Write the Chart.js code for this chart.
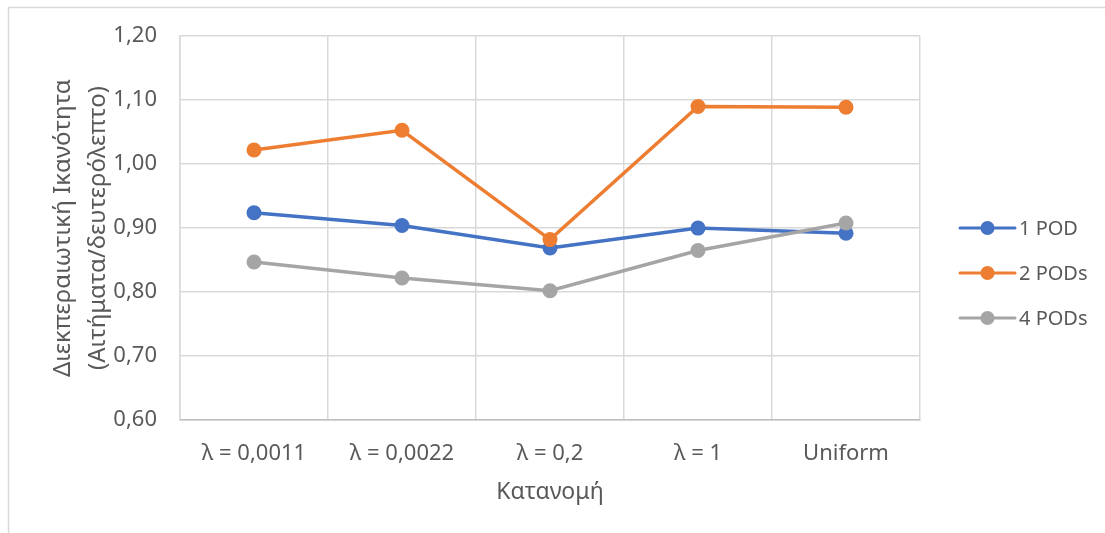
<!DOCTYPE html>
<html>
<head>
<meta charset="utf-8">
<style>
  html, body { margin: 0; padding: 0; background: #ffffff; }
  #wrap { position: relative; width: 1105px; height: 533px; }
</style>
<script src="https://cdn.jsdelivr.net/npm/chart.js@4.4.1/dist/chart.umd.min.js"></script>
</head>
<body>
<div id="wrap"><canvas id="chart" width="1105" height="533"></canvas></div>
<script>
// Categories (distribution) and throughput per configuration
const categories = ['λ = 0,0011', 'λ = 0,0022', 'λ = 0,2', 'λ = 1', 'Uniform'];
const seriesNames = ['1 POD', '2 PODs', '4 PODs'];
const onePod  = [0.924, 0.904, 0.869, 0.900, 0.892];
const twoPods = [1.022, 1.053, 0.882, 1.090, 1.089];
const fourPods = [0.847, 0.822, 0.802, 0.865, 0.908];
const yTickValues = [0.60, 0.70, 0.80, 0.90, 1.00, 1.10, 1.20];
const yTitle = ['Διεκπεραιωτική Ικανότητα', '(Αιτήματα/δευτερόλεπτο)'];
const xTitle = 'Κατανομή';

const FONT = "'Noto Sans', 'Open Sans', sans-serif";
const TEXT = '#595959';
const GRID = '#d9d9d9';
const colors = ['#4472C4', '#ED7D31', '#A5A5A5'];

// Frame of the chart area (top and left edges)
const framePlugin = {
  id: 'frame',
  beforeDraw(chart) {
    const ctx = chart.ctx;
    ctx.save();
    ctx.strokeStyle = GRID;
    ctx.lineWidth = 1.5;
    ctx.beginPath();
    ctx.moveTo(8.5, chart.height);
    ctx.lineTo(8.5, 7.5);
    ctx.lineTo(chart.width, 7.5);
    ctx.stroke();
    ctx.restore();
  }
};

// Legend on the right: line with a round marker, then the series name
const sideLegend = {
  id: 'sideLegend',
  afterDraw(chart) {
    const ctx = chart.ctx;
    const area = chart.chartArea;
    const x0 = area.right + 40;
    const x1 = area.right + 95;
    const yStart = 228;
    const step = 45;
    ctx.save();
    chart.data.datasets.forEach((ds, i) => {
      const y = yStart + i * step;
      ctx.strokeStyle = ds.borderColor;
      ctx.lineWidth = 3;
      ctx.lineCap = 'round';
      ctx.beginPath();
      ctx.moveTo(x0, y);
      ctx.lineTo(x1, y);
      ctx.stroke();
      ctx.fillStyle = ds.backgroundColor;
      ctx.beginPath();
      ctx.arc((x0 + x1) / 2, y, 7, 0, Math.PI * 2);
      ctx.fill();
      ctx.fillStyle = TEXT;
      ctx.font = '20px ' + FONT;
      ctx.textAlign = 'left';
      ctx.textBaseline = 'middle';
      ctx.fillText(ds.label, x1 + 4, y + 1);
    });
    ctx.restore();
  }
};

const seriesData = [onePod, twoPods, fourPods];
const datasets = seriesData.map((vals, i) => ({
  label: seriesNames[i],
  data: vals,
  borderColor: colors[i],
  backgroundColor: colors[i],
  borderWidth: 3.5,
  pointRadius: 7.5,
  pointBorderWidth: 0,
  pointBackgroundColor: colors[i],
  tension: 0,
  order: seriesData.length - i
}));

new Chart(document.getElementById('chart'), {
  type: 'line',
  data: { labels: categories, datasets },
  plugins: [framePlugin, sideLegend],
  options: {
    responsive: false,
    animation: false,
    layout: { padding: { top: 36, right: 185, left: 0, bottom: 0 } },
    plugins: {
      legend: { display: false },
      tooltip: { enabled: false }
    },
    scales: {
      x: {
        offset: true,
        grid: { offset: true, color: GRID, lineWidth: 1.5, drawTicks: false },
        border: { color: '#bfbfbf', width: 1.5 },
        ticks: { color: TEXT, font: { family: FONT, size: 22 }, padding: 21, maxRotation: 0 },
        title: {
          display: true, text: xTitle, color: TEXT,
          font: { family: FONT, size: 23 }, padding: { top: 0, bottom: 27 }
        },
        afterFit(scale) { scale.height = 113; }
      },
      y: {
        min: 0.6,
        max: 1.2,
        afterBuildTicks(scale) { scale.ticks = yTickValues.map(v => ({ value: v })); },
        grid: { color: GRID, lineWidth: 1.5, drawTicks: false },
        border: { color: GRID, width: 1.5 },
        ticks: {
          color: TEXT, font: { family: FONT, size: 22 }, padding: 23,
          callback: v => v.toFixed(2).replace('.', ',')
        },
        title: {
          display: true, text: yTitle, color: TEXT,
          font: { family: FONT, size: 24, lineHeight: 1.45 }, padding: { top: 46, bottom: 0 }
        },
        afterFit(scale) { scale.width = 180; }
      }
    }
  }
});
</script>
</body>
</html>
